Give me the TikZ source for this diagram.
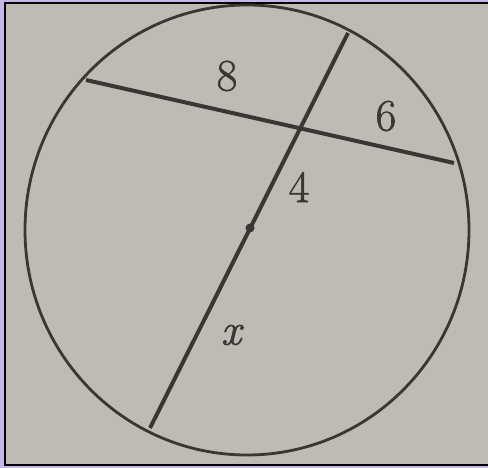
\documentclass[tikz,border=0pt]{standalone}
\usepackage{fontspec}
\newfontfamily\lblfont[FakeBold=1.3,ItalicFeatures={FakeBold=1.3}]{Latin Modern Roman}
\definecolor{paper}{RGB}{189,187,180}
\definecolor{frame}{RGB}{196,182,232}
\definecolor{ink}{RGB}{58,54,52}
\begin{document}
\begin{tikzpicture}[x=1pt,y=-1pt,
  chord/.style={draw=ink,line width=4pt},
  rim/.style={draw=ink,line width=2.8pt},
  lbl/.style={text=ink,font=\lblfont\fontsize{45}{50}\selectfont,inner sep=0pt}]
\useasboundingbox (0,0) rectangle (488,468);
\fill[frame] (0,0) rectangle (488,468);
\fill[paper] (5,3) rectangle (488,465);
\draw[black,line width=2pt] (488,3) -- (5,3) -- (5,465) -- (488,465);
\coordinate (O) at (247,230);
\draw[rim] (O) ellipse [x radius=222, y radius=225];
\coordinate (A) at (86,80);
\coordinate (B) at (454,163);
\coordinate (C) at (348,33);
\coordinate (D) at (150,428);
\coordinate (P) at (intersection of A--B and C--D);
\draw[chord] (A) -- (B);
\draw[chord] (C) -- (D);
\fill[ink] (250,228) circle (4.5);
\node[lbl] (l8) at (227,76) {8};
\node[lbl] (l6) at (386,116) {6};
\node[lbl] (l4) at (299,187) {4};
\node[lbl] (lx) at (231,335) {\itshape x};
\end{tikzpicture}
\end{document}
